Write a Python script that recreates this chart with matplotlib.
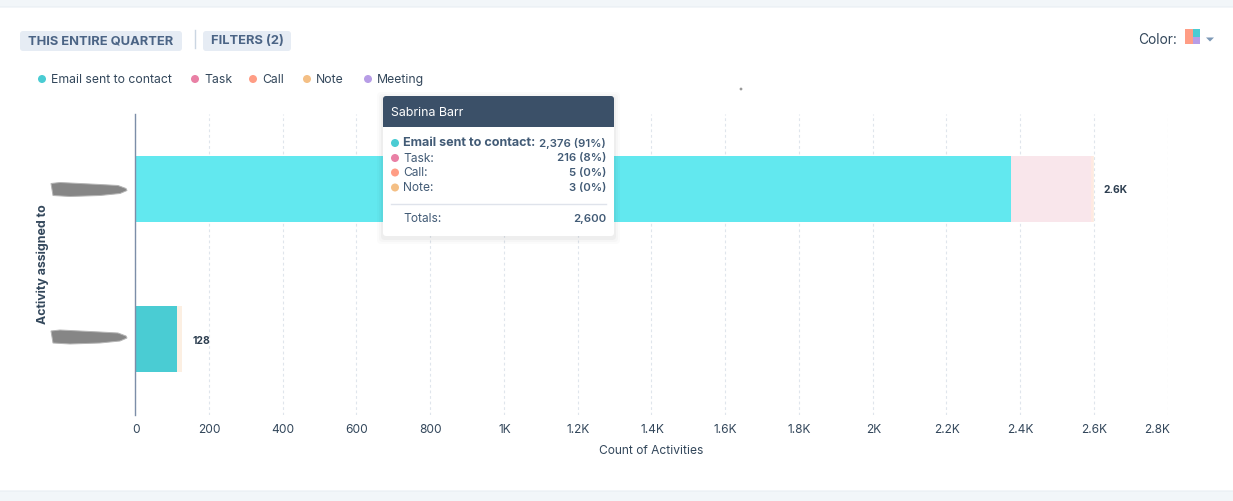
import matplotlib
matplotlib.use("Agg")
from matplotlib import pyplot as plt
from matplotlib.patches import FancyBboxPatch, Rectangle, Polygon, Circle
from matplotlib.transforms import Affine2D

W, H = 1233, 501
plt.rcParams['font.family'] = ['Inter', 'DejaVu Sans']

# data
people = ['Sabrina Barr', 'Other']
series = ['Email sent to contact', 'Task', 'Call', 'Note', 'Meeting']
email = [2376, 114]
task = [216, 0]
call = [5, 0]
note = [3, 14]
totals_labels = ['2.6K', '128']
tick_values = [0, 200, 400, 600, 800, 1000, 1200, 1400, 1600, 1800, 2000, 2200, 2400, 2600, 2800]
tick_labels = ['0', '200', '400', '600', '800', '1K', '1.2K', '1.4K', '1.6K', '1.8K', '2K', '2.2K', '2.4K', '2.6K', '2.8K']
tooltip_rows = ['2,376 (91%)', '216 (8%)', '5 (0%)', '3 (0%)']
tooltip_total = '2,600'

# colours
dark = '#33475b'
slate = '#425b76'
dots = ['#4accd3', '#e980a5', '#ff9d85', '#f4bf85', '#b79de6']
top_colors = ['#62e8ef', '#f9e6eb', '#ffe9e2', '#fcefe2']
low_colors = ['#4accd3', '#f9e6eb', '#ffe9e2', '#fcefe2']


def px(size):
    # css px to points at dpi 100
    return size * 0.72


fig = plt.figure(figsize=(W / 100, H / 100), dpi=100, facecolor='#f2f6f9')

# white card behind everything
bg = fig.add_axes([0, 0, 1, 1], zorder=0)
bg.set_xlim(0, W)
bg.set_ylim(H, 0)
bg.axis('off')
bg.add_patch(FancyBboxPatch((-8, 7), W + 16, 484, boxstyle='round,pad=0,rounding_size=5',
                            fc='white', ec='#e9eef3', lw=0.8))

# chart
left, right, top, bottom = 135, 1167.5, 113.5, 414.5
ax = fig.add_axes([left / W, 1 - bottom / H, (right - left) / W, (bottom - top) / H], zorder=1)
ax.patch.set_alpha(0)
ax.set_xlim(0, 2800)
ax.set_ylim(1.5, -0.5)
ax.grid(axis='x', color='#dfe5ec', ls=(0, (2.5, 2.5)), lw=0.8, zorder=0)
ax.set_axisbelow(True)

for i in range(2):
    colors = top_colors if i == 0 else low_colors
    start = 0
    for vals, c in zip([email, task, call, note], colors):
        ax.barh(i, vals[i], left=start, height=0.44, color=c, zorder=2)
        start += vals[i]
    ax.annotate(totals_labels[i], (start, i), xytext=(10, -1.5), textcoords='offset pixels',
                va='center', ha='left', fontsize=px(10.3), fontweight='bold', color='#2d3e50', zorder=3)

ax.set_xticks(tick_values)
ax.set_xticklabels(tick_labels, fontsize=px(12), color=dark)
ax.xaxis.get_majorticklabels()[-1].set_horizontalalignment('right')
ax.set_yticks([])
ax.tick_params(axis='x', length=0, pad=7)
for lab in ax.xaxis.get_majorticklabels():
    lab.set_transform(lab.get_transform() + Affine2D().translate(0.8, 0))
ax.xaxis.get_majorticklabels()[-1].set_transform(
    ax.xaxis.get_majorticklabels()[-1].get_transform() + Affine2D().translate(1.5, 0))
for s in ['top', 'right', 'bottom']:
    ax.spines[s].set_visible(False)
ax.spines['left'].set_color('#7c8ea8')
ax.spines['left'].set_linewidth(1)
ax.set_xlabel('Count of Activities', fontsize=px(12), color=dark, labelpad=6)

# everything that is page furniture, in pixel coords
ui = fig.add_axes([0, 0, 1, 1], zorder=2)
ui.set_xlim(0, W)
ui.set_ylim(H, 0)
ui.axis('off')
ui.patch.set_alpha(0)

ui.text(42.5, 264, 'Activity assigned to', rotation=90, ha='center', va='center',
        fontsize=px(12.4), fontweight='bold', color=dark)

# scribbled out names
for yc in [189.5, 337]:
    blob = [(51, yc - 6), (60, yc - 7), (100, yc - 5), (118, yc - 4), (126, yc - 1), (127, yc + 1),
            (120, yc + 4), (100, yc + 6), (70, yc + 7), (53, yc + 6), (52, yc)]
    ui.add_patch(Polygon(blob, closed=True, fc='#868686', ec='#b5b5b5', lw=0.7))

# filter pills
for x0, x1, label in [(20, 182, 'THIS ENTIRE QUARTER'), (203, 291, 'FILTERS (2)')]:
    ui.add_patch(FancyBboxPatch((x0, 31), x1 - x0, 20, boxstyle='round,pad=0,rounding_size=3',
                                fc='#e6ecf4', ec='none'))
    ui.text(x0 + 8, 41, label, ha='left', va='center', fontsize=px(12.9), fontweight='bold', color='#4b6485')
ui.plot([194.5, 194.5], [30, 48], color='#cbd6e2', lw=1)

# legend
legend_dot_x = [42, 195, 253, 307, 368]
for x, name, c in zip(legend_dot_x, series, dots):
    ui.add_patch(Circle((x, 79), 4, fc=c, ec='none'))
    ui.text(x + 9, 80, name, ha='left', va='center', fontsize=px(12.2), color=dark)

ui.add_patch(Circle((741, 89), 1.4, fc='#9a9a9a', ec='none'))

# colour picker
ui.text(1177, 39.5, 'Color:', ha='right', va='center', fontsize=px(13.7), color=dark)
ui.add_patch(Rectangle((1185, 29), 7.5, 15, fc='#ff9d85', ec='none'))
ui.add_patch(Rectangle((1192.5, 29), 7.5, 7.5, fc='#4accd3', ec='none'))
ui.add_patch(Rectangle((1192.5, 36.5), 7.5, 7.5, fc='#b79de6', ec='none'))
ui.add_patch(Polygon([(1206, 37.5), (1214, 37.5), (1210, 41.5)], closed=True, fc='#7c98b6', ec='none'))

# tooltip
for grow, alpha in [(6, 0.015), (4, 0.02), (2, 0.03)]:
    ui.add_patch(FancyBboxPatch((383 - grow, 96 - grow + 2), 231 + 2 * grow, 140 + 2 * grow,
                                boxstyle='round,pad=0,rounding_size=4', fc='black', ec='none', alpha=alpha))
ui.add_patch(FancyBboxPatch((383, 96), 231, 140, boxstyle='round,pad=0,rounding_size=3', fc='white', ec='none'))
ui.add_patch(FancyBboxPatch((383, 96), 231, 31, boxstyle='round,pad=0,rounding_size=3', fc='#3b5068', ec='none'))
ui.add_patch(Rectangle((383, 120), 231, 7, fc='#3b5068', ec='none'))
ui.text(391, 112.5, people[0], ha='left', va='center', fontsize=px(12.4), color='white')

row_y = [143, 158, 172.5, 187.5]
for i, y in enumerate(row_y):
    ui.add_patch(Circle((395, y), 4, fc=dots[i], ec='none'))
    ui.text(403, y + 0.5, series[i] + ':', ha='left', va='center', fontsize=px(12.6 if i == 0 else 12), color=slate,
            fontweight='bold' if i == 0 else 'normal')
    ui.text(606, y + 0.5, tooltip_rows[i], ha='right', va='center', fontsize=px(11.4), color=slate, fontweight='semibold')
ui.plot([391, 606], [203.5, 203.5], color='#dfe3eb', lw=1)
ui.text(403, 219.5, 'Totals:', ha='left', va='center', fontsize=px(12), color=slate)
ui.text(606, 219.5, tooltip_total, ha='right', va='center', fontsize=px(11.4), color=slate, fontweight='semibold')

fig.savefig('out.png', dpi=100, facecolor=fig.get_facecolor())
